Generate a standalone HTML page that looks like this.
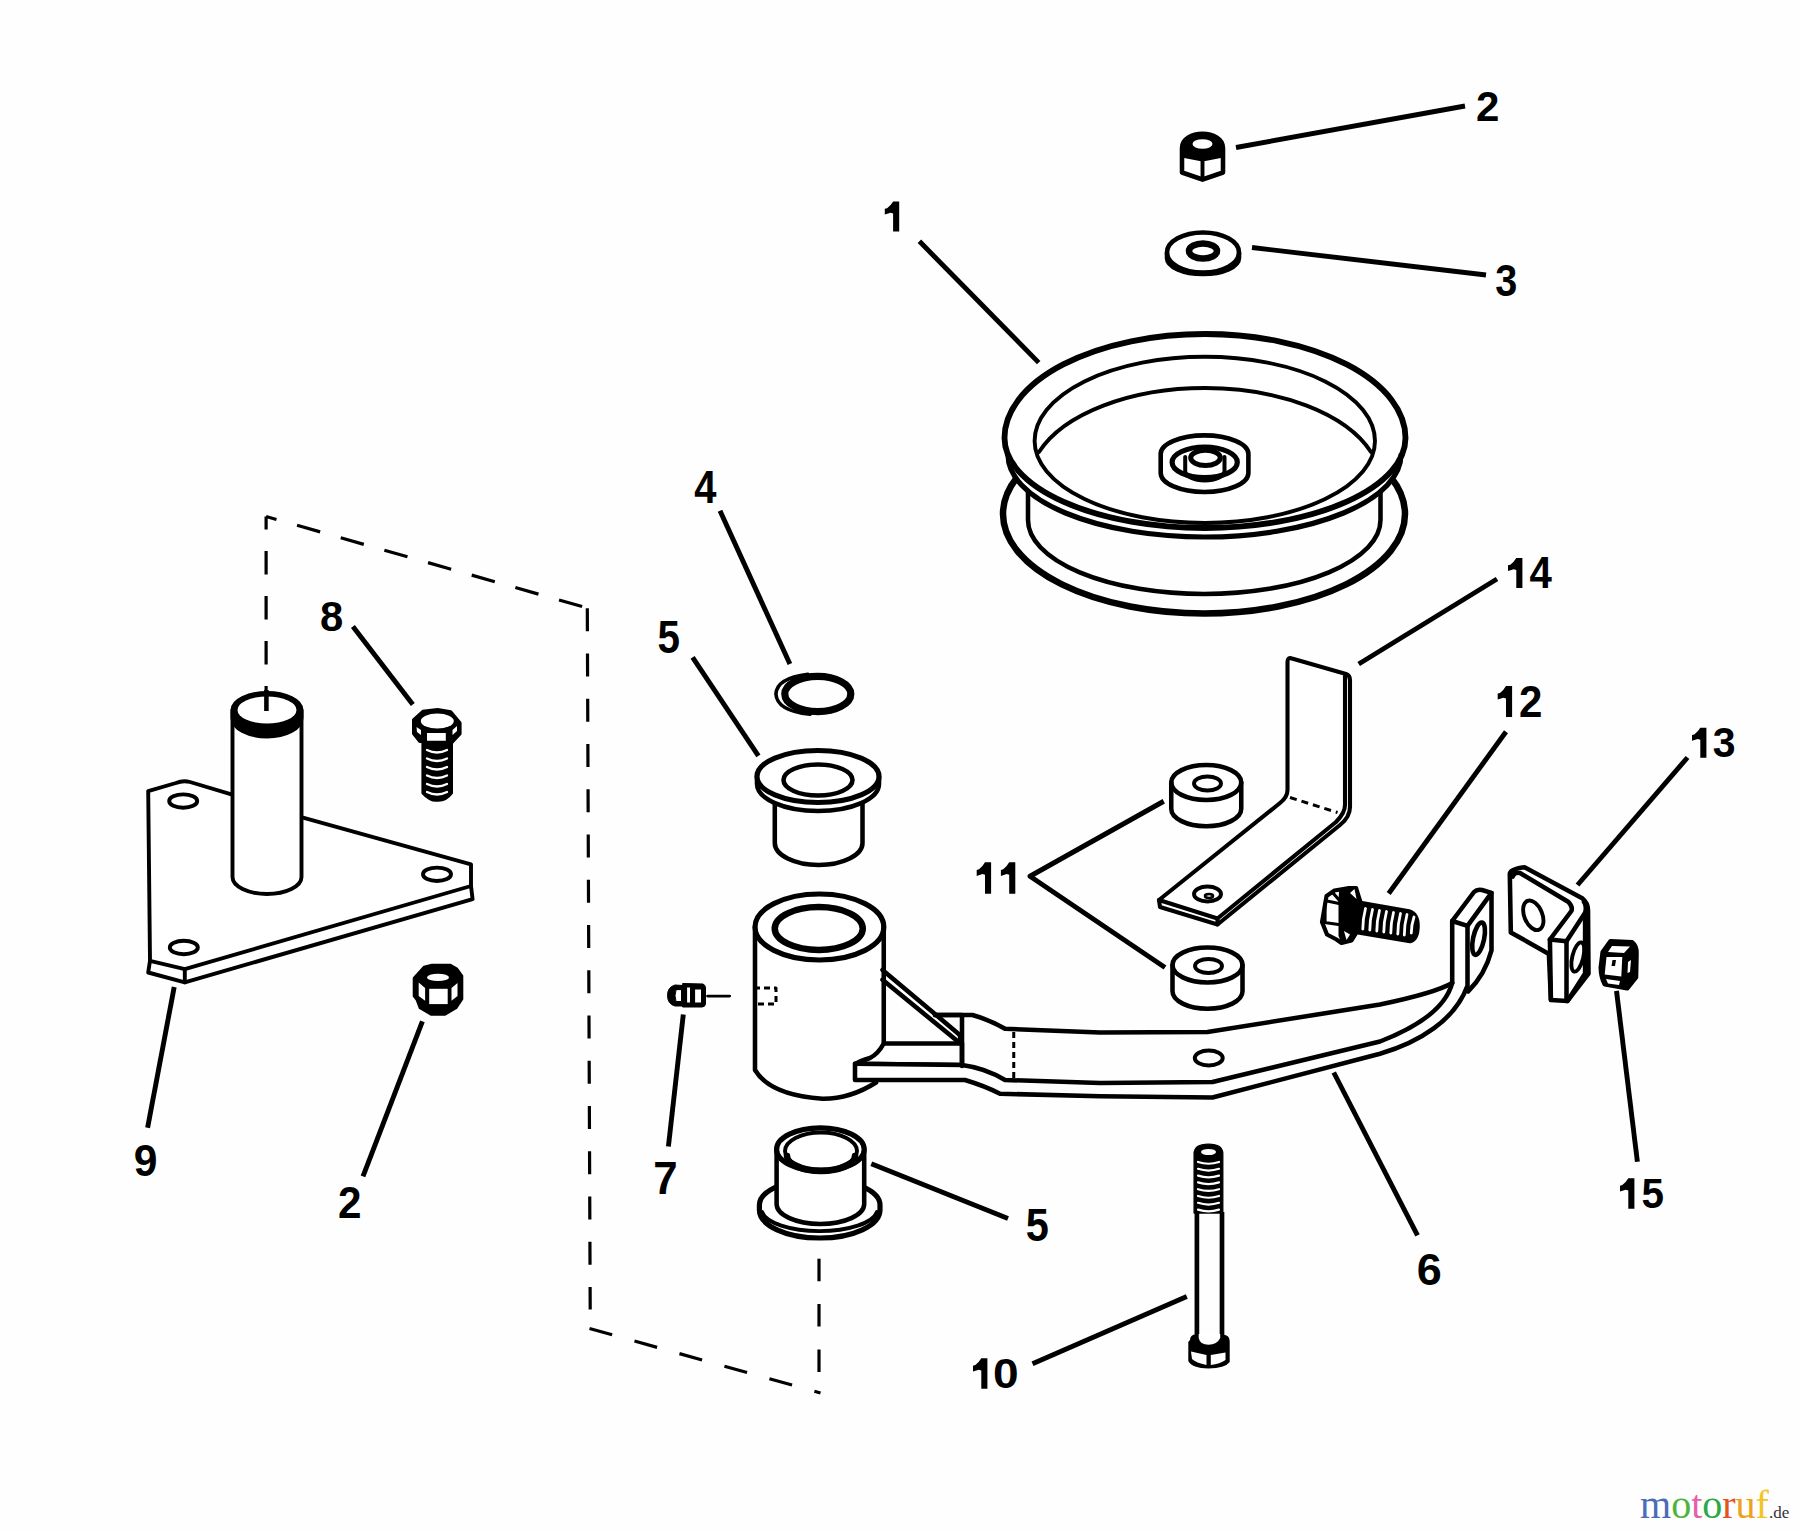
<!DOCTYPE html>
<html><head><meta charset="utf-8">
<style>
html,body{margin:0;padding:0;background:#fdfefd;}
body{width:1800px;height:1533px;overflow:hidden;position:relative;}
svg{position:absolute;left:0;top:0;}
.lb{font-family:"Liberation Sans",sans-serif;font-weight:bold;font-size:45px;fill:#000;}
.wm{font-family:"Liberation Serif",serif;font-size:40px;}
</style></head><body>
<svg width="1800" height="1533" viewBox="0 0 1800 1533">
<g fill="none" stroke="#000" stroke-linecap="butt" stroke-linejoin="round">
<!-- leaders -->
<g stroke-width="4.9">
<path d="M919.4,241.3L1038.7,362.6"/>
<path d="M1236,147.5L1465,106"/>
<path d="M1252,247.5L1486,275"/>
<path d="M720,510.7L789.9,664.1"/>
<path d="M692.6,657.3L758.4,755.9"/>
<path d="M1358.7,664L1497,579"/>
<path d="M1388.7,893.5L1506,731.7"/>
<path d="M1577.5,885L1687.5,757.5"/>
<path d="M352.9,626.4L412.8,704.6"/>
<path d="M1163.75,801.25L1030,876.25L1165,967.5"/>
<path d="M174.2,987L147.6,1127.8"/>
<path d="M422.4,1021.4L363,1176.3"/>
<path d="M683.3,1014.5L668.4,1146.6"/>
<path d="M871.3,1163.8L1008,1218.6"/>
<path d="M1333.75,1072.5L1417.5,1235.4"/>
<path d="M1032.5,1363.75L1186.8,1296.5"/>
<path d="M1616.5,990.9L1637.4,1161.7"/>
</g>
<!-- dashed -->
<g stroke-width="3.2">
<path d="M266.1,516.5 L266.1,710.2" stroke-dasharray="23.5 21.5" stroke-dashoffset="10.6"/>
<path d="M266.1,516.5 L582.6,606.7" stroke-dasharray="24 21.4" stroke-dashoffset="13.2"/>
<path d="M587.3,608.2 L590.2,1309.4" stroke-dasharray="23 22.25"/>
<path d="M589.5,1328.5 L820.5,1393" stroke-dasharray="23.5 23.2"/>
<path d="M819,1258.7 L819,1372.7" stroke-dasharray="22.5 22.9"/>
</g>
</g>

<!-- PARTS -->
<g id="parts" fill="none" stroke="#000" stroke-linejoin="round" stroke-linecap="round">
<!-- nut 2 top -->
<g stroke-width="4.55">
<path d="M1182,148 C1182,129 1223,129 1223,148 L1223,172.5 L1202.5,179.5 L1182,172.5 Z" fill="#fff"/>
<path d="M1182,148 C1182,129 1223,129 1223,148 L1223,156 L1202.5,160 L1182,156 Z" fill="#000" stroke-width="3.25"/>
<ellipse cx="1202.5" cy="144" rx="10" ry="4.8" fill="#fff" stroke="none"/>
<path d="M1202.5,160 L1202.5,179.5" stroke-width="3.9"/>
</g>
<!-- washer 3 -->
<g stroke-width="4.55">
<path d="M1167,253 L1167,258 A36,16 0 0 0 1239,258 L1239,253"/>
<ellipse cx="1203" cy="252.5" rx="36" ry="20"/>
<ellipse cx="1203" cy="251" rx="14" ry="7.5" stroke-width="6.5"/>
</g>
<!-- pulley 1 -->
<g>
<ellipse cx="1204" cy="514" rx="201" ry="99.5" stroke-width="6.5"/>
<path d="M1028,470 L1028,520 A176.25,74 0 0 0 1380.5,520 L1380.5,470" stroke-width="4.55"/>
<path d="M1004.5,438 A200.5,104 0 0 1 1405.5,438 L1405.5,452 A197,84 0 0 1 1008,452 Z" fill="#fff" stroke="none"/>
<path d="M1008,455 A196.5,82 0 0 0 1401,455" stroke-width="5.2"/>
<path d="M1004.5,438 A200.5,104 0 0 1 1405.5,438 A200.5,90 0 0 1 1004.5,438 Z" stroke-width="5.85"/>
<path d="M1034.6,441 A170.2,84.3 0 0 1 1375,441 A170.2,82 0 0 1 1034.6,441 Z" stroke-width="3.9"/>
<path d="M1039,452 A176,95.8 0 0 1 1371,452" stroke-width="3.9"/>
<!-- hub -->
<path d="M1160.7,454 A43.85,18.6 0 0 1 1248.4,454 L1248.4,473 A43.85,19 0 0 1 1160.7,473 Z" stroke-width="4.6"/>
<ellipse cx="1204.7" cy="462.3" rx="32.6" ry="15.3" stroke-width="5.2"/>
<path d="M1185.2,457 L1185.2,471 A19.65,9.5 0 0 0 1224.5,471 L1224.5,457" stroke-width="4"/>
<ellipse cx="1205.5" cy="457.8" rx="14.8" ry="7.6" stroke-width="5"/>
</g>
</g>

<g fill="none" stroke="#000" stroke-linejoin="round" stroke-linecap="round">
<!-- bracket 14 -->
<g stroke-width="4.1">
<path d="M1287.5,790 L1287.5,662 Q1287.5,657 1292,658.5 L1346,674 Q1350,675.5 1350,680 L1350,807 Q1350,817 1340,825 L1217.5,924.5 L1160,907 L1159,900 L1280,803 Q1287.5,797 1287.5,790 Z" fill="#fff"/>
<path d="M1159,900 L1217.5,918.5 L1336,822 Q1345,813 1345,805 L1345,676" />
<path d="M1217.5,918.5 L1217.5,924.5"/>
<path d="M1290,797.5 L1337.5,812.5" stroke-dasharray="7 5" stroke-width="3" stroke-linecap="butt"/>
<ellipse cx="1207.5" cy="894" rx="13.5" ry="7.5" stroke-width="3.9"/>
<ellipse cx="1209" cy="896" rx="4" ry="2" stroke-width="2.6"/>
</g>
<!-- spacers 11 -->
<g stroke-width="4.55">
<path d="M1171.25,782.5 A35,17.5 0 0 1 1241.25,782.5 L1241.25,808.75 A35,17.5 0 0 1 1171.25,808.75 Z" fill="#fff"/>
<path d="M1171.25,782.5 A35,17.5 0 0 0 1241.25,782.5"/>
<ellipse cx="1207.5" cy="783.5" rx="13.5" ry="7" stroke-width="3.9"/>
<path d="M1172.5,965 A35,17.5 0 0 1 1242.5,965 L1242.5,991.25 A35,17.5 0 0 1 1172.5,991.25 Z" fill="#fff"/>
<path d="M1172.5,965 A35,17.5 0 0 0 1242.5,965"/>
<ellipse cx="1208.5" cy="966" rx="13.5" ry="7" stroke-width="3.9"/>
</g>
<!-- bolt 12 -->
<g stroke-width="4.55">
<path d="M1360.5,903 L1409,911.5 Q1417.5,914 1417.5,926 Q1417.5,939 1410,941 L1356.5,932 Z" fill="#000"/>
<g stroke="#fff" stroke-width="2.8"><path d="M1358.5,907.5 Q1355.8,917.8 1355.8,928.0"/><path d="M1365.5,908.5 Q1362.8,918.8 1362.8,929.0"/><path d="M1372.5,909.5 Q1369.8,919.8 1369.8,930.0"/><path d="M1379.5,910.5 Q1376.8,920.8 1376.8,931.0"/><path d="M1386.5,911.5 Q1383.8,921.8 1383.8,932.0"/><path d="M1393.5,912.5 Q1390.8,922.8 1390.8,933.0"/><path d="M1400.5,913.5 Q1397.8,923.8 1397.8,934.0"/><path d="M1407.0,914.5 Q1404.3,924.8 1404.3,935.0"/><path d="M1414.0,917.0 Q1411.3,925.0 1411.3,933.0"/></g>
<path d="M1322,922 L1326.5,896 L1334.5,890.5 L1349,888 L1356,888 L1361,904 L1358,930 L1351.5,940.5 L1341.5,943 L1336.5,939.5 L1327,934.5 Z" fill="#fff" stroke-width="4.2"/>
<path d="M1339,890 L1349,888 L1356,888 L1361,904 L1358,930 L1351.5,940.5 L1341.5,943 L1338.5,936 L1338.5,903 Z" fill="#000" stroke="none"/>
<path d="M1350,893 L1354.5,889 L1356.5,899 Z" fill="#fff" stroke="none"/>
<path d="M1344,931 L1350,934.5 L1346.5,940 Z" fill="#fff" stroke="none"/>
<path d="M1327,901 L1339,903.5 M1325,903.5 L1325,922 M1324.5,922.5 L1338.5,924.5 M1333,893 L1340,901" stroke-width="3.2"/>
</g>
<!-- bracket 13 -->
<g stroke-width="4.55">
<path d="M1509.8,874 Q1510,869 1524.5,867.3 L1582.2,898.2 Q1588,903 1588,910 L1588.5,973.5 L1567.5,1000.9 L1550.9,999.9 L1548.9,953.9 L1510.8,932.4 Z" fill="#fff"/>
<path d="M1512.7,876.6 Q1514,872 1520,873 L1568.5,902 Q1573,907 1571.4,911 L1549.9,939.5 L1566.5,941.2 L1585.1,912.8 Q1587,906 1584,902"/>
<path d="M1549.9,939.5 L1550.9,999.9"/>
<path d="M1566.5,941.2 L1566.5,1000.9"/>
<path d="M1585.1,914 L1585.1,973.5 L1567.5,1000.9"/>
<ellipse cx="1533.3" cy="915.3" rx="9" ry="15.5" transform="rotate(-22 1533.3 915.3)" stroke-width="3.9"/>
<ellipse cx="1577.8" cy="957" rx="5.5" ry="15" transform="rotate(14 1577.8 957)" stroke-width="3.9"/>
</g>
<!-- nut 15 -->
<g stroke-width="4.55">
<path d="M1602.7,952 L1610.6,941.2 L1632.1,942.2 Q1637,946 1636.5,954 L1636,977.4 L1627.2,988.2 L1604.7,984.3 Q1601,977 1600.8,967.6 Z" fill="#000"/>
<path d="M1606.5,957 L1622.3,957 L1621.3,976.4 L1604.7,974.5 Z" fill="#fff" stroke="none"/>
<path d="M1612,946 L1630,946.5 L1624,953 L1608,952 Z" fill="#fff" stroke="none"/>
<path d="M1606,979 L1620,981 L1619,985 L1608,983.5 Z" fill="#fff" stroke="none"/>
<path d="M1628,962 L1631,960 L1630,972 L1627.5,973 Z" fill="#fff" stroke="none"/>
<path d="M1612.5,960 L1616,960 L1615,966 L1611.5,966 Z" fill="#000" stroke="none"/>
</g>
</g>

<g fill="none" stroke="#000" stroke-linejoin="round" stroke-linecap="round">
<!-- hub cylinder -->
<g stroke-width="4.55">
<path d="M755,927 A64.4,33 0 0 1 883.75,927 L883.75,1060 L876,1082.5 Q850,1099 822.5,1098.75 Q770,1095 755,1070 Z" fill="#fff" stroke="none"/>
<path d="M883.75,927 L883.75,1043 M876,1082.5 Q850,1099 822.5,1098.75 Q770,1095 755,1070 L755,927"/>
<ellipse cx="819.4" cy="927" rx="64.4" ry="33" stroke-width="5.2"/>
<ellipse cx="818.75" cy="928.5" rx="44" ry="21.5" stroke-width="6.5"/>
<path d="M754,988 L776,988 L776,1004 L754,1004" stroke-dasharray="6 4" stroke-width="3" stroke-linecap="butt"/>
<!-- gusset -->
<path d="M882.5,969.9 L959.8,1034.9 L961,1043.5 L883.75,1043.5 Q878,1054 870,1058 Q860,1061 856,1063.75 L962,1065 L962,1043" fill="#fff"/>
<path d="M882.5,979.8 L956.7,1040.5"/>
<path d="M935,1015 L962,1015"/>
</g>
<!-- arm 6 -->
<g stroke-width="4.55">
<path d="M855,1063.75 L962,1065 L962,1080 L855,1080 Z" fill="#fff" stroke="none"/>
<path d="M855,1063.75 L855,1080 L965,1080 Q985,1086 1000,1093.75 L1100,1096.25 L1212.5,1097.5 L1380,1053.8 C1420,1042 1455,1020 1467.5,985.7 L1467.5,925.8"/>
<path d="M855,1063.75 L962,1065 Q985,1068 1005,1080 L1100,1083 L1212.5,1082 L1380,1041.5 C1415,1028 1445,1010 1452.2,983 L1452.2,921"/>
<path d="M935,1015 L972.5,1015 Q990,1020 1005,1028.75 L1100,1032.5 L1207.5,1032 L1380,1004.5 Q1435,993 1452.2,983"/>
<path d="M1491.5,892.9 L1491.5,950.4 Q1485,975 1468,991.5"/>
<path d="M1452.2,921 L1474,892 Q1477,889 1482,890 L1491.5,892.9 L1467.5,925.8 Z"/>
<path d="M962,1016 L962,1066"/>
<path d="M1013.75,1032 L1013.75,1080" stroke-dasharray="6 4" stroke-width="3" stroke-linecap="butt"/>
<ellipse cx="1208.75" cy="1058" rx="14" ry="7.5" stroke-width="3.9"/>
<ellipse cx="1478.6" cy="938.7" rx="5.5" ry="16.5" transform="rotate(12 1478.6 938.7)" stroke-width="4.55"/>
</g>
<!-- grease fitting 7 -->
<g>
<path d="M683,985.5 L675,985 Q667.5,987 667.5,995.5 Q667.5,1004 675,1006 L683,1006 Z" fill="#000"/>
<path d="M683,983.5 L703,984 Q705.5,985 705.5,988 L705.5,1004 Q705,1007 702,1007 L683,1007 Z" fill="#000"/>
<path d="M676,990 Q674,995.5 676,1001.5 L681.5,1001.5 L681.5,990 Z" fill="#fff"/>
<path d="M687,987 L690.5,987 L690.5,1003 L687,1003 Z" fill="#fff"/>
<path d="M695,989 L701.5,989 L701.5,1003 L695,1003 Z" fill="#fff"/>
<path d="M707.6,996.1 L729.6,996.1" stroke-width="2.9"/>
</g>
<!-- ring 4 -->
<path d="M808,674.3 Q777,678 775.9,694 Q777,711 810,714.3" stroke-width="3.6"/>
<ellipse cx="817.8" cy="694" rx="33" ry="17.6" stroke-width="7.2"/>
<!-- bushing 5 top -->
<g stroke-width="4.55">
<path d="M774.8,790 L774.8,843 A43.85,22 0 0 0 862.5,843 L862.5,790" fill="#fff"/>
<path d="M757,776.5 L757,784 A61,27 0 0 0 879,784 L879,776.5" fill="#fff"/>
<ellipse cx="818" cy="776.5" rx="61" ry="26" fill="#fff" stroke-width="5.2"/>
<ellipse cx="818" cy="780" rx="34.5" ry="15.5"/>
</g>
<!-- bushing 5 bottom -->
<g stroke-width="4.55">
<path d="M759.4,1205 L759.4,1210 A60.3,28 0 0 0 880,1210 L880,1205 A60.3,26 0 0 0 759.4,1205 Z" fill="#fff" stroke-width="5.2"/>
<path d="M762,1212 A58,22 0 0 0 877,1212" stroke-width="3.9"/>
<path d="M776.6,1149.4 L776.6,1204 A43.8,20 0 0 0 864.2,1204 L864.2,1149.4" fill="#fff"/>
<ellipse cx="820.4" cy="1149.4" rx="43.8" ry="21.5" fill="#fff" stroke-width="5.2"/>
<path d="M785,1151 A36,18.5 0 0 1 857,1151 A36,18.5 0 0 1 785,1151 Z" stroke-width="3.9"/>
<path d="M787,1156 A34,15 0 0 0 855,1156" stroke-width="6.5"/>
</g>
<!-- plate 9 -->
<g stroke-width="3.9">
<path d="M150,960.8 L148.2,972.5 L184.8,982.4 L472.6,899.2 L471,886 L471,864.3 L303,817.7 L231.4,794.4 L190,782 Q183,780 176,783 L148.2,791.1 Z" fill="#fff"/>
<path d="M150,960.8 L184.8,969.1 L471,886"/>
<path d="M184.8,969.1 L184.8,982.4"/>
<ellipse cx="183.2" cy="801.1" rx="14" ry="6.7" stroke-width="3.9"/>
<ellipse cx="437" cy="874.3" rx="14" ry="6.7" stroke-width="3.9"/>
<ellipse cx="183.8" cy="947.5" rx="14" ry="6.7" stroke-width="3.9"/>
<path d="M232.5,710 L232.5,877 A34.5,17 0 0 0 301.5,877 L301.5,710" fill="#fff"/>
<path d="M232.5,710 A34.5,17 0 0 1 301.5,710 L301.5,718 A34.5,18.5 0 0 1 232.5,718 Z" fill="#000" stroke-width="3.9"/>
<ellipse cx="267" cy="710" rx="29.5" ry="13.5" fill="#fff" stroke="none"/>
<path d="M266.4,690 L266.4,711" stroke-width="4.55" stroke-linecap="butt"/>
</g>
<!-- bolt 8 -->
<g>
<path d="M413.3,719.7 L422.7,711.1 L437.6,709.2 L450.9,711.5 L460.3,722.9 L460.3,733.8 L451.7,743.2 L419.6,741.7 L413.3,733.8 Z" fill="#000" stroke-width="2.6"/>
<ellipse cx="437.3" cy="721" rx="16.5" ry="7.5" fill="#fff" stroke="none"/>
<path d="M427,733 L445.8,733 L445.8,741.5 L427,741.5 Z" fill="#fff" stroke="none"/>
<path d="M416.5,727 L421,730 L421,735 L417,732 Z" fill="#fff" stroke="none"/>
<path d="M457,726 L452.5,730 L452.5,735 L457,731 Z" fill="#fff" stroke="none"/>
<path d="M422.7,742 L422.7,793 Q430,801 437,800.4 Q446,801 451.7,793 L451.7,742 Z" fill="#000" stroke-width="2.6"/>
<g stroke="#fff" stroke-width="2.3">
<path d="M427,750 Q437,755 447,750"/><path d="M427,758.5 Q437,763.5 447,758.5"/><path d="M427,767 Q437,772 447,767"/><path d="M427,775.5 Q437,780.5 447,775.5"/><path d="M427,784 Q437,789 447,784"/><path d="M427,792 Q437,797 447,792"/>
</g>
</g>
<!-- nut 2 left -->
<g>
<path d="M414,978 L424,967 L432,965 L450,965 L457,969 L462,976 L462,999 L456,1008 L445,1014.4 L431,1014.4 L420,1008 L417,1000 L414,996 Z" fill="#000" stroke-width="2.6"/>
<ellipse cx="438" cy="977.4" rx="11" ry="3.7" fill="#fff" stroke="none"/>
<path d="M429.2,988.8 L447.7,988.8 L447.7,1004.1 L429.2,1004.1 Z" fill="#fff" stroke="none"/>
<path d="M418.7,982.4 L425.1,988 L425.1,1000.7 L418.7,996 Z" fill="#fff" stroke="none"/>
<path d="M457.5,983 L451.5,988 L451.5,1000.7 L457.5,996 Z" fill="#fff" stroke="none"/>
</g>
<!-- bolt 10 -->
<g>
<path d="M1194.1,1154 Q1194.1,1144.2 1208.5,1144.2 Q1222.8,1144.2 1222.8,1154 L1222.8,1213 L1194.1,1213 Z" fill="#000" stroke-width="1.3"/>
<ellipse cx="1208.5" cy="1152" rx="7.5" ry="3.1" fill="#fff" stroke="none"/>
<g stroke="#fff" stroke-width="2.2">
<path d="M1198,1162 Q1208.5,1165.5 1219,1162"/><path d="M1198,1168.8 Q1208.5,1172.3 1219,1168.8"/><path d="M1198,1175.6 Q1208.5,1179.1 1219,1175.6"/><path d="M1198,1182.4 Q1208.5,1185.9 1219,1182.4"/><path d="M1198,1189.2 Q1208.5,1192.7 1219,1189.2"/><path d="M1198,1196 Q1208.5,1199.5 1219,1196"/><path d="M1198,1202.8 Q1208.5,1206.3 1219,1202.8"/><path d="M1198,1209.6 Q1208.5,1213.1 1219,1209.6"/>
</g>
<path d="M1196.9,1212 L1196.9,1340 M1222,1212 L1222,1340" stroke-width="4.68" stroke-linecap="butt"/>
<path d="M1190,1340 Q1190,1334.4 1196,1334.4 L1222,1334.4 Q1229.7,1334.4 1229.7,1341 L1229.7,1362 Q1225,1368.4 1208.5,1368.4 Q1192,1368.4 1188.3,1361 L1188.3,1342 Z" fill="#000" stroke="none"/>
<path d="M1198.7,1334 L1198.7,1338 Q1200,1344.8 1208.5,1344.8 Q1217,1344.8 1220.2,1338 L1220.2,1334 Z" fill="#fff" stroke="none"/>
<path d="M1191,1351.6 L1206.5,1355 L1206.5,1364.9 Q1196,1363 1192,1359 Z" fill="#fff" stroke="none"/>
<path d="M1210.8,1355 L1225.5,1352.6 L1225.5,1360 Q1220,1364 1210.8,1364.9 Z" fill="#fff" stroke="none"/>
</g>
</g>
<!-- labels -->
<g class="lb">
<path transform="translate(884.8,201.5) scale(1,1.000)" d="M8.3,0 L14.4,0 L14.4,30 L8.3,30 L8.3,12 L5.7,11.3 L0,13 L0,7.3 L2.3,6.7 Q6,4 8.3,0 Z"/>
<text transform="translate(1475.94,121.0) scale(0.934,0.952)">2</text>
<text transform="translate(1495.21,295.56) scale(0.88,0.977)">3</text>
<text transform="translate(694.2,502.7) scale(0.885,1.021)">4</text>
<text transform="translate(657.59,653.35) scale(0.898,1.01)">5</text>
<path transform="translate(1508,558) scale(1,1.000)" d="M8.3,0 L14.4,0 L14.4,30 L8.3,30 L8.3,12 L5.7,11.3 L0,13 L0,7.3 L2.3,6.7 Q6,4 8.3,0 Z"/>
<text transform="translate(1529.4,588.0) scale(0.893,0.966)">4</text>
<path transform="translate(1497.7,686) scale(1,1.033)" d="M8.3,0 L14.4,0 L14.4,30 L8.3,30 L8.3,12 L5.7,11.3 L0,13 L0,7.3 L2.3,6.7 Q6,4 8.3,0 Z"/>
<text transform="translate(1518.94,717.0) scale(0.934,0.984)">2</text>
<path transform="translate(1692,727.7) scale(1,1.000)" d="M8.3,0 L14.4,0 L14.4,30 L8.3,30 L8.3,12 L5.7,11.3 L0,13 L0,7.3 L2.3,6.7 Q6,4 8.3,0 Z"/>
<text transform="translate(1712.67,757.28) scale(0.911,0.939)">3</text>
<text transform="translate(320.05,630.57) scale(0.929,0.945)">8</text>
<path transform="translate(976.7,862.2) scale(1,1.053)" d="M8.3,0 L14.4,0 L14.4,30 L8.3,30 L8.3,12 L5.7,11.3 L0,13 L0,7.3 L2.3,6.7 Q6,4 8.3,0 Z"/>
<path transform="translate(1000.9,862.2) scale(1,1.053)" d="M8.3,0 L14.4,0 L14.4,30 L8.3,30 L8.3,12 L5.7,11.3 L0,13 L0,7.3 L2.3,6.7 Q6,4 8.3,0 Z"/>
<text transform="translate(133.81,1176.35) scale(0.948,0.989)">9</text>
<text transform="translate(338.03,1217.7) scale(0.939,0.968)">2</text>
<text transform="translate(653.25,1193.57) scale(0.973,1.017)">7</text>
<text transform="translate(1025.75,1241.35) scale(0.924,1.01)">5</text>
<text transform="translate(1416.63,1285.36) scale(0.999,0.973)">6</text>
<path transform="translate(973,1358.3) scale(1,1.013)" d="M8.3,0 L14.4,0 L14.4,30 L8.3,30 L8.3,12 L5.7,11.3 L0,13 L0,7.3 L2.3,6.7 Q6,4 8.3,0 Z"/>
<text transform="translate(992.96,1388.27) scale(1.025,0.951)">0</text>
<path transform="translate(1620,1178.3) scale(1,1.013)" d="M8.3,0 L14.4,0 L14.4,30 L8.3,30 L8.3,12 L5.7,11.3 L0,13 L0,7.3 L2.3,6.7 Q6,4 8.3,0 Z"/>
<text transform="translate(1641.59,1208.27) scale(0.898,0.965)">5</text>
</g>
<!-- watermark -->
<text class="wm" x="1640" y="1518"><tspan fill="#4a6cb8">m</tspan><tspan fill="#4db33d">o</tspan><tspan fill="#e65fa8">t</tspan><tspan fill="#2aa84a">o</tspan><tspan fill="#e2531f">r</tspan><tspan fill="#f0a020">u</tspan><tspan fill="#f2c521">f</tspan><tspan fill="#333" font-size="17">.de</tspan></text>
</svg>
</body></html>
